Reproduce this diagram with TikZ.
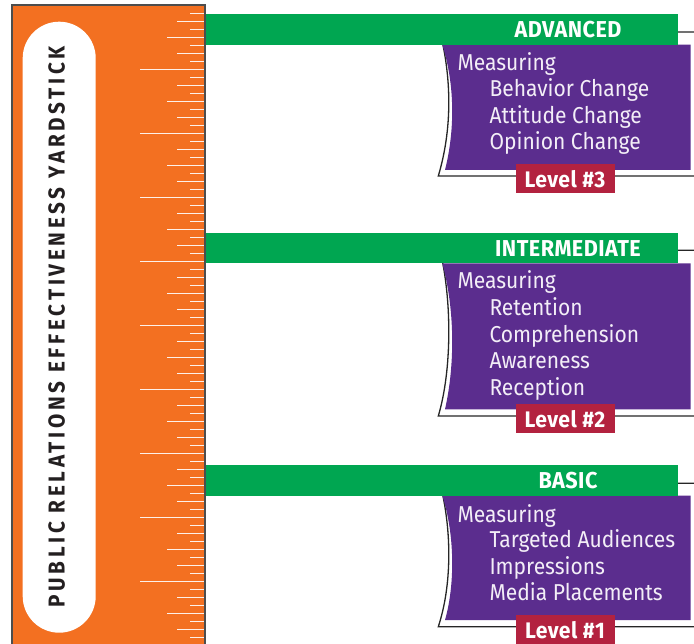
\documentclass[tikz,border=0pt]{standalone}
\usepackage{fontspec}
\setmainfont{Fira Sans}
\newfontfamily\bodyf{Fira Sans}[FakeStretch=0.915]
\newfontfamily\headf{Fira Sans}[FakeStretch=0.94,LetterSpace=2]
\newfontfamily\vertf{Fira Sans}[FakeStretch=0.9,LetterSpace=16]
\definecolor{rulerorange}{HTML}{F37021}
\definecolor{barGreen}{HTML}{00A651}
\definecolor{boxPurple}{HTML}{5B2D8E}
\definecolor{lvlRed}{HTML}{B3223F}
\definecolor{rulerBorder}{HTML}{4D4D4D}
\definecolor{lightTxt}{HTML}{F3EEF7}
\definecolor{darkTxt}{HTML}{231F20}
\tikzset{
  tick/.style={draw=white, draw opacity=0.9, line width=1.5pt},
  pill/.style={fill=white, draw=none, rounded corners=36.5pt, minimum width=73pt, minimum height=611pt, inner sep=0pt},
  yardtxt/.style={rotate=90, text=darkTxt, inner sep=0pt, font=\vertf\bfseries\fontsize{23}{23}\selectfont},
  bar/.style={fill=barGreen},
  headtxt/.style={text=white, inner sep=0pt, font=\headf\bfseries\fontsize{23}{23}\selectfont},
  purplebox/.style={fill=boxPurple},
  outline/.style={fill=white, draw=black!85, line width=1.3pt},
  bodytxt/.style={text=lightTxt, inner sep=0pt, anchor=base west, font=\bodyf\fontsize{23}{23}\selectfont},
  lvl/.style={fill=lvlRed, text=white, inner sep=0pt, minimum width=99pt, minimum height=29.3pt, font=\headf\bfseries\fontsize{22.5}{22.5}\selectfont},
}
\begin{document}
\begin{tikzpicture}[x=1pt,y=-1pt]
\useasboundingbox (0,0) rectangle (694,644);
% ruler
\fill[rulerorange] (12,5.3) rectangle (205,660);
\foreach \k in {1,...,80}{
  \pgfmathsetmacro\ty{5.3+8*\k}
  \pgfmathtruncatemacro\m{mod(\k,8)}
  \pgfmathsetmacro\tx{(\m==0) ? 140 : ((\m==4) ? 167 : (((\m==2)||(\m==6)) ? 177 : 190))}
  \draw[tick] (\tx,\ty) -- (205,\ty);
}
\draw[rulerBorder, line width=1.8pt] (12,660) -- (12,5.3) -- (205,5.3) -- (205,660);
\node[pill] (pill) at (59.2,327.2) {};
\node[yardtxt] (yard) at (56.7,326.7) {PUBLIC RELATIONS EFFECTIVENESS YARDSTICK};

% ADVANCED block
\draw[outline] (440,32) .. controls (452,80) and (452,130) .. (438.3,176) -- (705,176) -- (705,32) -- cycle;
\fill[purplebox] (442.3,44.7) .. controls (455,85) and (455,130) .. (445,170) -- (690.7,170) -- (690.7,44.7) -- cycle;
\fill[bar] (205.7,14) rectangle (677.7,44.7);
\node[headtxt] (advhead) at (568,29.4) {ADVANCED};
\node[bodytxt] (adv0) at (457.3,70.7) {Measuring};
\node[bodytxt] (adv1) at (489.3,96.7) {Behavior Change};
\node[bodytxt] (adv2) at (489.3,123.5) {Attitude Change};
\node[bodytxt] (adv3) at (489.3,149.8) {Opinion Change};
\node[lvl] (lvl3) at (565,178.7) {Level \#3};

% INTERMEDIATE block
\draw[outline] (440,250.3) .. controls (452,300) and (452,370) .. (438.3,416) -- (705,416) -- (705,250.3) -- cycle;
\fill[purplebox] (442.3,263.3) .. controls (455,310) and (455,365) .. (445,409.3) -- (690.7,409.3) -- (690.7,263.3) -- cycle;
\fill[bar] (205.7,233.3) rectangle (677.7,263.3);
\node[headtxt] (inthead) at (568,248.3) {INTERMEDIATE};
\node[bodytxt] (int0) at (457.3,289) {Measuring};
\node[bodytxt] (int1) at (489.3,316) {Retention};
\node[bodytxt] (int2) at (489.3,342.7) {Comprehension};
\node[bodytxt] (int3) at (489.3,369) {Awareness};
\node[bodytxt] (int4) at (489.3,395.5) {Reception};
\node[lvl] (lvl2) at (565,418.7) {Level \#2};

% BASIC block
\draw[outline] (440,483.3) .. controls (452,530) and (452,585) .. (438.3,626.7) -- (705,626.7) -- (705,483.3) -- cycle;
\fill[purplebox] (442.3,495.7) .. controls (455,535) and (455,585) .. (445,620) -- (690.7,620) -- (690.7,495.7) -- cycle;
\fill[bar] (205.7,465) rectangle (677.7,495.7);
\node[headtxt] (bashead) at (568,480.3) {BASIC};
\node[bodytxt] (bas0) at (457.3,522.7) {Measuring};
\node[bodytxt] (bas1) at (489.3,547.7) {Targeted Audiences};
\node[bodytxt] (bas2) at (489.3,574) {Impressions};
\node[bodytxt] (bas3) at (489.3,600.3) {Media Placements};
\node[lvl] (lvl1) at (565,629.8) {Level \#1};
\end{tikzpicture}
\end{document}
